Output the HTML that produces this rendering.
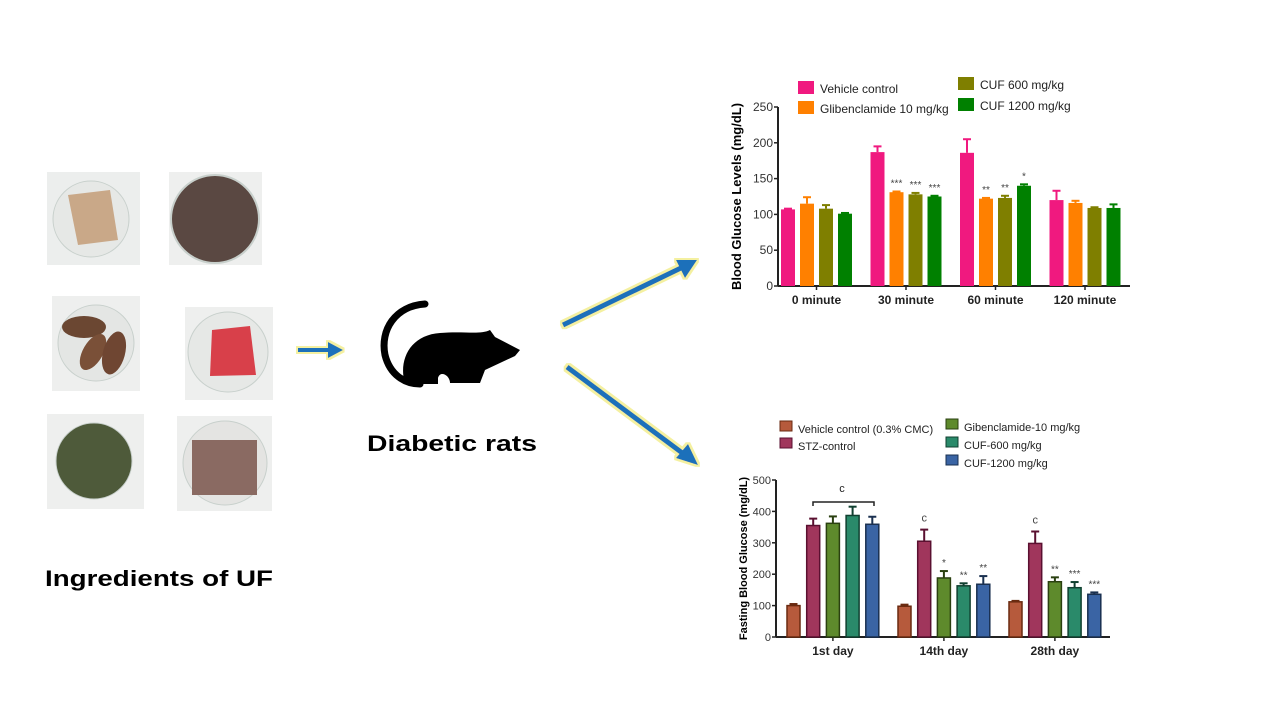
<!DOCTYPE html>
<html><head><meta charset="utf-8"><style>
body{margin:0;background:#fff;width:1280px;height:720px;overflow:hidden;font-family:"Liberation Sans",sans-serif}
svg{position:absolute;left:0;top:0}
</style></head><body>
<svg id="s" width="1280" height="720" xmlns="http://www.w3.org/2000/svg">
<defs>
<filter id="glow" x="-20%" y="-50%" width="140%" height="200%"><feMorphology operator="dilate" radius="2" in="SourceAlpha" result="d"/><feFlood flood-color="#f4f0a0"/><feComposite in2="d" operator="in" result="g"/><feMerge><feMergeNode in="g"/><feMergeNode in="SourceGraphic"/></feMerge></filter>
</defs>
<g>
<g><rect x="47" y="172" width="93" height="93" fill="#eceeed"/><circle cx="91" cy="219" r="38" fill="#e6e8e6" stroke="#c8d0cc"/><path d="M68 195 L110 190 L118 240 L78 245 Z" fill="#c9a888"/></g>
<g><rect x="169" y="172" width="93" height="93" fill="#eeefee"/><circle cx="215" cy="219" r="44" fill="#5a4842" stroke="#c8d0cc" stroke-width="2"/></g>
<g><rect x="52" y="296" width="88" height="95" fill="#eeefee"/><circle cx="96" cy="343" r="38" fill="#e4e6e4" stroke="#c8d0cc"/><ellipse cx="84" cy="327" rx="22" ry="11" fill="#6b4732"/><ellipse cx="93" cy="352" rx="10" ry="20" fill="#7a5038" transform="rotate(30 93 352)"/><ellipse cx="114" cy="353" rx="11" ry="22" fill="#6f4632" transform="rotate(15 114 353)"/></g>
<g><rect x="185" y="307" width="88" height="93" fill="#eeefee"/><circle cx="228" cy="352" r="40" fill="#e6e8e6" stroke="#c8d0cc"/><path d="M212 330 L250 326 L256 375 L210 376 Z" fill="#d8404a"/></g>
<g><rect x="47" y="414" width="97" height="95" fill="#eeefee"/><circle cx="94" cy="461" r="38" fill="#4e5a3a" stroke="#c8d0cc"/></g>
<g><rect x="177" y="416" width="95" height="95" fill="#eeefee"/><circle cx="225" cy="463" r="42" fill="#e4e4e2" stroke="#c8d0cc"/><rect x="192" y="440" width="65" height="55" fill="#8a6a62"/></g>
</g>
<text x="45" y="586" font-size="22" font-weight="bold" fill="#000" textLength="228" lengthAdjust="spacingAndGlyphs">Ingredients of UF</text>
<path d="M298 348 h30 v-6 l15 8 l-15 8 v-6 h-30 z" fill="#1f6fba" filter="url(#glow)"/>
<g fill="#000">
<path d="M425 304 C395 306 380 330 385 355 C390 375 405 384 420 384" fill="none" stroke="#000" stroke-width="7" stroke-linecap="round"/>
<path d="M405 384 C398 360 410 335 440 333 C465 331 480 335 490 330 L495 337 L520 350 L515 356 L485 370 L480 383 L450 383 C450 375 440 370 438 378 L438 384 Z"/>
</g>
<text x="367" y="451" font-size="22" font-weight="bold" fill="#000" textLength="170" lengthAdjust="spacingAndGlyphs">Diabetic rats</text>
<g filter="url(#glow)"><line x1="563" y1="325" x2="683" y2="267" stroke="#1f6fba" stroke-width="5"/><path d="M697 260 L676 260 L685 278 Z" fill="#1f6fba"/></g>
<g filter="url(#glow)"><line x1="567" y1="367" x2="685" y2="455" stroke="#1f6fba" stroke-width="5"/><path d="M698 465 L676 458 L688 444 Z" fill="#1f6fba"/></g>
<g id="top"></g>
<g id="bot"></g>
</svg>
<script>
const NS="http://www.w3.org/2000/svg";
function mk(p,t,a){const e=document.createElementNS(NS,t);for(const k in a)e.setAttribute(k,a[k]);p.appendChild(e);return e;}
// ---- top chart data ----
const topCats=["0 minute","30 minute","60 minute","120 minute"];
const topSeries=["Vehicle control","Glibenclamide 10 mg/kg","CUF 600 mg/kg","CUF 1200 mg/kg"];
const topVals=[[107,187,186,120],[115,131,122,116],[108,128,123,109],[101,125,140,109]];
const topErr=[[1,8,19,13],[9,1,1,3],[5,2,3,1],[1,1,2,5]];
const topSig=[["","","",""],["","***","**",""],["","***","**",""],["","***","*",""]];
const topTicks=[0,50,100,150,200,250];
const topColors=["#f0197f","#ff8000","#7f7f00","#008000"];
// ---- bottom chart data ----
const botCats=["1st day","14th day","28th day"];
const botSeries=["Vehicle control (0.3% CMC)","STZ-control","Gibenclamide-10 mg/kg","CUF-600 mg/kg","CUF-1200 mg/kg"];
const botVals=[[100,98,112],[355,305,298],[362,188,176],[387,163,157],[359,168,136]];
const botErr=[[5,5,3],[22,37,38],[22,22,14],[28,8,18],[24,26,6]];
const botSig=[["","",""],["","c","c"],["","*","**"],["","**","***"],["","**","***"]];
const botTicks=[0,100,200,300,400,500];
const botColors=["#b65a3c","#a0365c","#5e8a2c","#2a8a6a","#3a64a4"];

function chart(g,o){
  const y=v=>o.y0-(v-0)/o.max*(o.y0-o.y1);
  let ax=mk(g,"line",{x1:o.x0,y1:o.y1,x2:o.x0,y2:o.y0,stroke:"#222","stroke-width":2});
  
  
  let xa=mk(g,"line",{x1:o.x0,y1:o.y0,x2:o.xe,y2:o.y0,stroke:"#222","stroke-width":2});
  
  
  o.ticks.forEach(t=>{
    mk(g,"line",{x1:o.x0-4,y1:y(t),x2:o.x0,y2:y(t),stroke:"#222","stroke-width":1.5});
    const tx=mk(g,"text",{x:o.x0-5,y:y(t)+4,"font-size":o.tfs,"text-anchor":"end",fill:"#333"});
    tx.textContent=t;
    
    
  });
  const yt=mk(g,"text",{x:0,y:0,"font-size":o.ytfs,"font-weight":"bold","text-anchor":"middle",transform:`translate(${o.ytx},${(o.y0+o.y1)/2}) rotate(-90)`});
  yt.textContent=o.ytitle;
  
  
  o.cats.forEach((c,i)=>{
    const gx=o.gx0+i*o.gstep;
    const cx=gx+(o.vals.length*o.bstep-(o.bstep-o.bw))/2;
    mk(g,"line",{x1:cx,y1:o.y0,x2:cx,y2:o.y0+4,stroke:"#222","stroke-width":1.5});
    const tl=mk(g,"text",{x:cx,y:o.y0+18,"font-size":12,"font-weight":"bold","text-anchor":"middle",fill:"#222"});
    tl.textContent=c;
    
    
    o.vals.forEach((s,j)=>{
      const bx=gx+j*o.bstep, v=s[i], e=o.err[j][i];
      const r=mk(g,"rect",{x:bx,y:y(v),width:o.bw,height:o.y0-y(v),fill:o.colors[j],stroke:o.stroke?o.strokeC[j]:"none","stroke-width":1.5});
      
      
      const ec=o.stroke?o.strokeC[j]:o.colors[j];
      mk(g,"line",{x1:bx+o.bw/2,y1:y(v),x2:bx+o.bw/2,y2:y(v+e),stroke:ec,"stroke-width":2});
      mk(g,"line",{x1:bx+o.bw/2-4,y1:y(v+e),x2:bx+o.bw/2+4,y2:y(v+e),stroke:ec,"stroke-width":2});
      if(o.sig[j][i]){const st=mk(g,"text",{x:bx+o.bw/2,y:y(v+e)-(o.sig[j][i]=="c"?8:5),"font-size":o.sig[j][i]=="c"?11:10,"text-anchor":"middle",fill:"#444"});st.textContent=o.sig[j][i];
      
      }
    });
  });
  o.legend.forEach((L,j)=>{
    const lr=mk(g,"rect",{x:L[0],y:L[1]-9,width:o.lsw,height:o.lsh,fill:o.colors[j],stroke:o.stroke?o.strokeC[j]:"none"});
    
    
    const lt=mk(g,"text",{x:L[0]+o.lsw+6,y:L[1]+3,"font-size":o.lfs,fill:"#222"});
    lt.textContent=o.series[j];
    
    
  });
}
chart(document.getElementById("top"),{x0:778,xe:1130,y0:286,y1:107,max:250,ticks:topTicks,tfs:12,cats:topCats,vals:topVals,err:topErr,sig:topSig,colors:topColors,series:topSeries,gx0:781,gstep:89.5,bstep:19,bw:14,ytitle:"Blood Glucose Levels (mg/dL)",ytx:741,ytfs:13,stroke:false,lsw:16,lsh:13,lfs:12,legend:[[798,90],[798,110],[958,86],[958,107]]});
chart(document.getElementById("bot"),{x0:776,xe:1110,y0:637,y1:480,max:500,ticks:botTicks,tfs:11,cats:botCats,vals:botVals,err:botErr,sig:botSig,colors:botColors,strokeC:["#6a2a10","#5a1030","#2a4010","#104030","#1a3050"],series:botSeries,gx0:787,gstep:111,bstep:19.7,bw:13,ytitle:"Fasting Blood Glucose (mg/dL)",ytx:747,ytfs:11,stroke:true,lsw:12,lsh:10,lfs:11,legend:[[780,430],[780,447],[946,428],[946,446],[946,464]]});
const b=document.getElementById("bot");
const br=mk(b,"path",{d:"M813 506 v-4 h61 v4",fill:"none",stroke:"#222","stroke-width":1.5});


const bc=mk(b,"text",{x:842,y:492,"font-size":11,"text-anchor":"middle",fill:"#222"});bc.textContent="c";


</script>
</body></html>
